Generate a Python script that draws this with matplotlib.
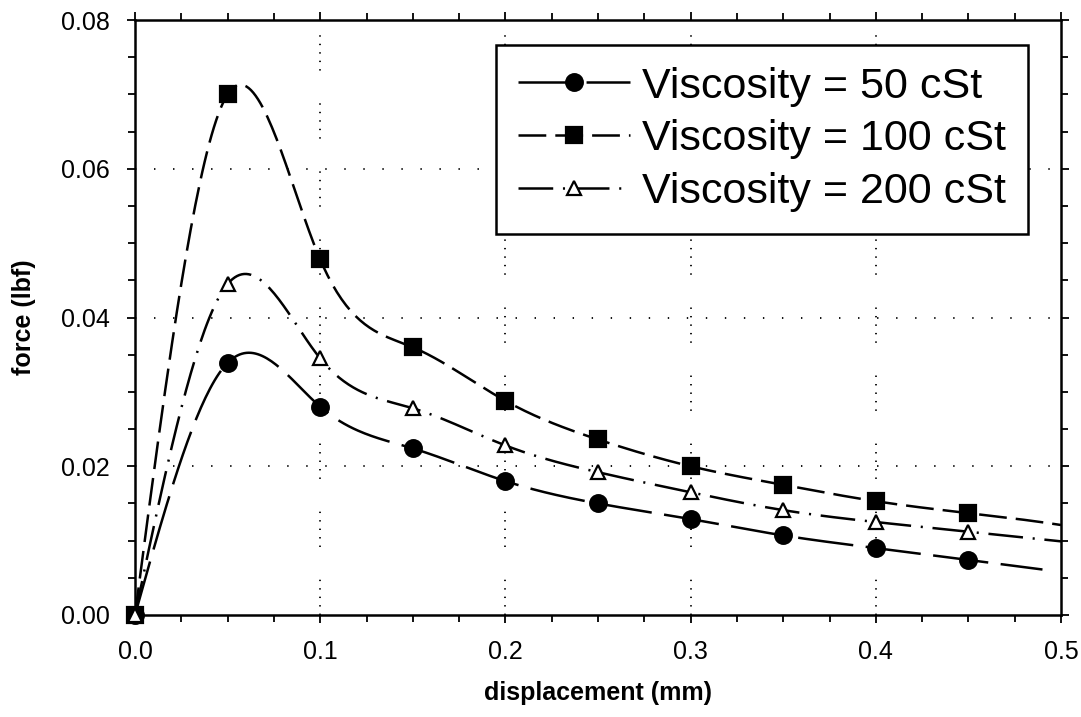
import numpy as np
import matplotlib
matplotlib.use("Agg")
import matplotlib.pyplot as plt
from matplotlib.lines import Line2D
from matplotlib.ticker import MultipleLocator, FormatStrFormatter

# ---------------- data ----------------
displacement = [0.0, 0.05, 0.10, 0.15, 0.20, 0.25, 0.30, 0.35, 0.40, 0.45]
force_50 = [0.0, 0.0339, 0.0280, 0.0224, 0.0180, 0.0150, 0.0129, 0.0107, 0.0090, 0.0074]
force_100 = [0.0, 0.0700, 0.0478, 0.0360, 0.0288, 0.0236, 0.0200, 0.0175, 0.0153, 0.0137]
force_200 = [0.0, 0.0445, 0.0345, 0.0278, 0.0228, 0.0192, 0.0165, 0.0141, 0.0125, 0.0112]
labels = ["Viscosity = 50 cSt", "Viscosity = 100 cSt", "Viscosity = 200 cSt"]
curve_end = [0.49, 0.5, 0.5]
xticks = [0.0, 0.1, 0.2, 0.3, 0.4, 0.5]
yticks = [0.00, 0.02, 0.04, 0.06, 0.08]


def natural_spline(x, y, xs):
    x = np.asarray(x, float)
    y = np.asarray(y, float)
    n = len(x)
    h = np.diff(x)
    A = np.zeros((n, n))
    b = np.zeros(n)
    A[0, 0] = 1
    A[-1, -1] = 1
    for i in range(1, n - 1):
        A[i, i - 1] = h[i - 1]
        A[i, i] = 2 * (h[i - 1] + h[i])
        A[i, i + 1] = h[i]
        b[i] = 3 * ((y[i + 1] - y[i]) / h[i] - (y[i] - y[i - 1]) / h[i - 1])
    c = np.linalg.solve(A, b)
    bc = (y[1:] - y[:-1]) / h - h * (2 * c[:-1] + c[1:]) / 3
    d = (c[1:] - c[:-1]) / (3 * h)
    idx = np.clip(np.searchsorted(x, xs, side="right") - 1, 0, n - 2)
    dx = xs - x[idx]
    return y[idx] + bc[idx] * dx + c[idx] * dx ** 2 + d[idx] * dx ** 3


plt.rcParams["font.family"] = ["Liberation Sans", "DejaVu Sans"]
plt.rcParams["lines.scale_dashes"] = False

fig = plt.figure(figsize=(10.81, 7.17), dpi=100)
ax = fig.add_axes([135 / 1081, 1 - 615 / 717, (1061 - 135) / 1081, (615 - 20) / 717])

series = [force_50, force_100, force_200]
dash_styles = [(0, (40, 9)), (0, (20, 6.5)), (0, (25, 7, 1.5, 7))]
markers = ["o", "s", "^"]
msizes = [12, 11, 10]
mfaces = ["black", "black", "white"]
lw = 1.8

for ys, ls, xe in zip(series, dash_styles, curve_end):
    xs = np.linspace(0, xe, 400)
    ax.plot(xs, natural_spline(displacement, ys, xs), color="black", lw=lw,
            linestyle=ls, zorder=3)

for ys, m, ms, fc in zip(series, markers, msizes, mfaces):
    ax.plot(displacement, ys, linestyle="none", marker=m, markersize=ms,
            markerfacecolor=fc, markeredgecolor="black", markeredgewidth=1.6,
            zorder=4, clip_on=False)

ax.set_xlim(0, 0.5)
ax.set_ylim(0, 0.08)
ax.set_xticks(xticks)
ax.set_yticks(yticks)
ax.xaxis.set_major_formatter(FormatStrFormatter("%.1f"))
ax.yaxis.set_major_formatter(FormatStrFormatter("%.2f"))
ax.xaxis.set_minor_locator(MultipleLocator(0.025))
ax.yaxis.set_minor_locator(MultipleLocator(0.005))
ax.tick_params(which="both", direction="out", top=True, right=True,
               labelsize=18, width=1.3, colors="black")
ax.tick_params(which="major", length=6)
ax.tick_params(which="minor", length=5)
ax.tick_params(axis="x", which="major", pad=12)
ax.tick_params(axis="y", which="major", pad=12)
for s in ax.spines.values():
    s.set_linewidth(1.8)

# grid
for xv in xticks[1:-1]:
    ax.axvline(xv, color="black", lw=1.3,
               linestyle=(0, (1, 5.1, 1, 5.1, 1, 5.1, 1, 5.1, 1, 23.6)), zorder=1)
for yv in yticks[1:-1]:
    ax.axhline(yv, color="black", lw=1.3, linestyle=(0, (1, 12.7)), zorder=1)

ax.set_xlabel("displacement (mm)", fontsize=18, fontweight="bold", labelpad=12)
ax.set_ylabel("force (lbf)", fontsize=18, fontweight="bold", labelpad=18)

handles = []
for ls, m, ms, fc in zip(dash_styles, markers, msizes, mfaces):
    handles.append(Line2D([], [], color="black", lw=lw, linestyle=ls, marker=m,
                          markersize=ms, markerfacecolor=fc,
                          markeredgecolor="black", markeredgewidth=1.6))
leg = ax.legend(handles, labels, loc="upper right",
                bbox_to_anchor=((1028 - 135) / (1061 - 135), (615 - 45) / 595),
                borderaxespad=0, fontsize=31, handlelength=2.6, numpoints=1,
                labelspacing=0.3, handletextpad=0.3, borderpad=0.5,
                fancybox=False, framealpha=1, edgecolor="black")
leg.get_frame().set_linewidth(1.8)
leg.set_zorder(5)

fig.savefig("out.png", dpi=100)
